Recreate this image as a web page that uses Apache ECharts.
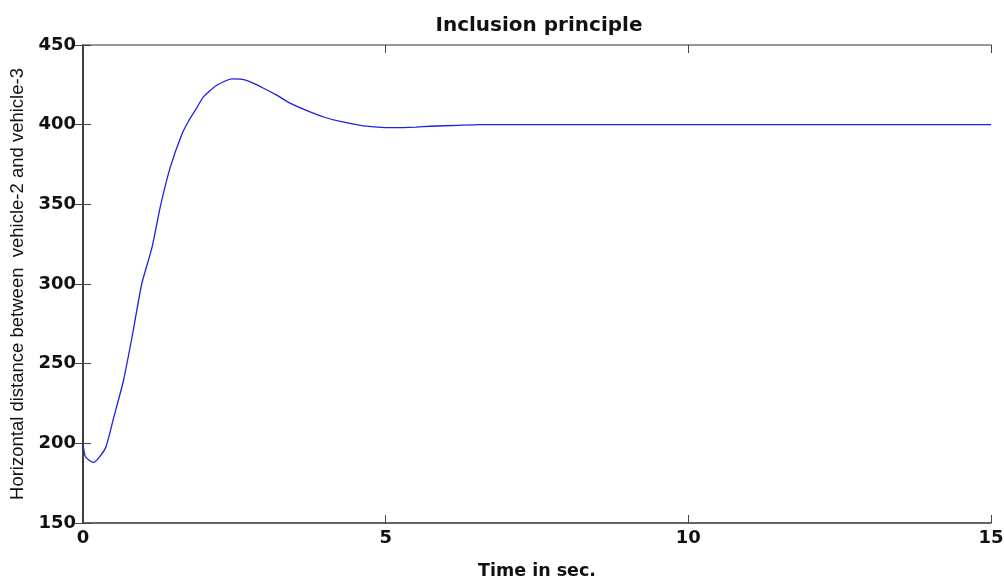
<!DOCTYPE html>
<html>
<head>
<meta charset="utf-8">
<script src="https://cdn.jsdelivr.net/npm/echarts@6/dist/echarts.min.js"></script>
<style>html,body{margin:0;padding:0;background:#fff}#c{width:1004px;height:578px}</style>
</head>
<body>
<div id="c"></div>
<script>
const times = [0, 0.04, 0.17, 0.37, 0.51, 0.67, 0.83, 0.97, 1.14, 1.28, 1.44, 1.63, 1.74, 1.87, 1.99, 2.21, 2.46, 2.7, 2.95, 3.2, 3.42, 3.75, 4.0, 4.25, 4.63, 5.0, 5.18, 5.5, 5.74, 6.2, 6.56, 7, 8, 10, 12, 15];
const distance = [200, 191.6, 188, 197, 216.6, 239.6, 270.8, 300, 323, 349, 373, 393.7, 402, 410, 417.4, 424.7, 428.7, 427.8, 423.5, 418.5, 413.5, 408, 404.5, 402, 399.2, 398.2, 398.1, 398.5, 399, 399.6, 400, 400, 400, 400, 400, 400];
const titleText = 'Inclusion principle';
const xName = 'Time in sec.';
const yName = 'Horizontal distance between  vehicle-2 and vehicle-3';

const chart = echarts.init(document.getElementById('c'));
const boldFont = 'DejaVu Sans, sans-serif';
const plainFont = 'Liberation Sans, Arial, sans-serif';
const axisLine = {show: true, lineStyle: {color: '#333', width: 1.5}};
const tick = {show: true, inside: true, length: 8, lineStyle: {color: '#444', width: 1}};
chart.setOption({
  animation: false,
  backgroundColor: '#fff',
  title: {
    text: titleText, left: 534, top: 11, textAlign: 'center',
    textStyle: {fontFamily: boldFont, fontSize: 20, fontWeight: 'bold', color: '#111'}
  },
  grid: {left: 83, right: 13, top: 45, bottom: 55, containLabel: false, outerBoundsMode: 'none'},
  xAxis: [{
    type: 'value', min: 0, max: 15, interval: 5,
    name: xName, nameLocation: 'middle', nameGap: 39,
    nameTextStyle: {fontFamily: boldFont, fontSize: 17.5, fontWeight: 'bold', color: '#111'},
    axisLine: axisLine, axisTick: tick, splitLine: {show: false},
    axisLabel: {fontFamily: boldFont, fontSize: 18, fontWeight: 'bold', color: '#111', margin: 6}
  }, {
    type: 'value', min: 0, max: 15, interval: 5, position: 'top',
    axisLine: {show: true, lineStyle: {color: '#777', width: 1.5}}, axisTick: tick,
    axisLabel: {show: false}, splitLine: {show: false}
  }],
  yAxis: [{
    type: 'value', min: 150, max: 450, interval: 50,
    name: yName, nameLocation: 'middle', nameGap: 56,
    nameTextStyle: {fontFamily: plainFont, fontSize: 18.5, color: '#111'},
    axisLine: axisLine, axisTick: tick, splitLine: {show: false},
    axisLabel: {fontFamily: boldFont, fontSize: 18, fontWeight: 'bold', color: '#111', margin: 7}
  }, {
    type: 'value', min: 150, max: 450, interval: 50, position: 'right',
    axisLine: axisLine, axisTick: tick,
    axisLabel: {show: false}, splitLine: {show: false}
  }],
  series: [{
    type: 'line', xAxisIndex: 0, yAxisIndex: 0,
    data: times.map((t, i) => [t, distance[i]]),
    showSymbol: false, smooth: 0.2,
    lineStyle: {color: '#2020e0', width: 1.3}
  }]
});
</script>
</body>
</html>
